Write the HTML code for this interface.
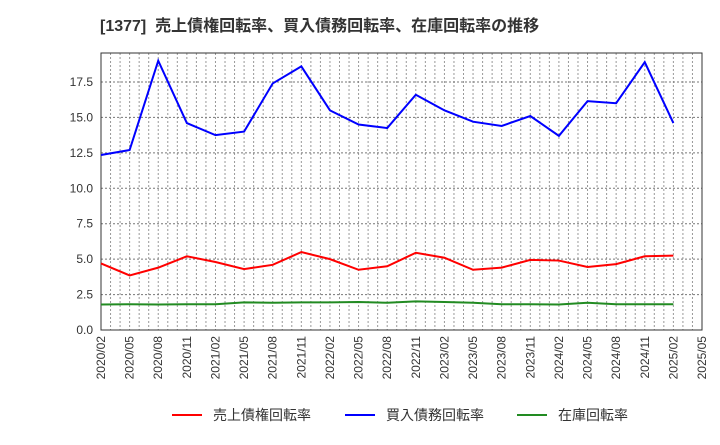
<!DOCTYPE html>
<html><head><meta charset="utf-8"><style>
body{margin:0;background:#fff;font-family:"Liberation Sans","Noto Sans CJK JP",sans-serif}
</style></head><body>
<svg id="c" width="720" height="440" xmlns="http://www.w3.org/2000/svg" font-family="Liberation Sans, Noto Sans CJK JP, sans-serif">
<text x="100" y="31" font-size="16" font-weight="bold" fill="#333">[1377]&#160;&#160;売上債権回転率、買入債務回転率、在庫回転率の推移</text>
<g id="grid"></g><g id="axes"></g><g id="series"></g>
<g>
<line x1="172" y1="415" x2="202" y2="415" stroke="#f00" stroke-width="2"/><text x="213" y="420" font-size="14" fill="#333">売上債権回転率</text>
<line x1="345" y1="415" x2="375" y2="415" stroke="#00f" stroke-width="2"/><text x="386" y="420" font-size="14" fill="#333">買入債務回転率</text>
<line x1="517" y1="415" x2="547" y2="415" stroke="#228b22" stroke-width="2"/><text x="558" y="420" font-size="14" fill="#333">在庫回転率</text>
</g>
</svg>
<script>
const xLabels=["2020/02","2020/05","2020/08","2020/11","2021/02","2021/05","2021/08","2021/11","2022/02","2022/05","2022/08","2022/11","2023/02","2023/05","2023/08","2023/11","2024/02","2024/05","2024/08","2024/11","2025/02","2025/05"];
const yTicks=[0,2.5,5,7.5,10,12.5,15,17.5];
const payables=[12.35,12.7,19.0,14.6,13.75,14.0,17.4,18.6,15.5,14.5,14.25,16.6,15.5,14.7,14.4,15.1,13.7,16.15,16.0,18.9,14.6];
const receivables=[4.7,3.85,4.4,5.2,4.8,4.3,4.6,5.5,5.0,4.25,4.5,5.45,5.1,4.25,4.4,4.95,4.9,4.45,4.65,5.2,5.25];
const inventory=[1.8,1.82,1.8,1.82,1.82,1.95,1.92,1.95,1.95,1.98,1.92,2.02,1.98,1.92,1.82,1.82,1.8,1.92,1.82,1.82,1.82];
const L=101,R=702,T=53,B=330,NS="http://www.w3.org/2000/svg";
const xs=i=>L+(R-L)*i/21, ys=v=>B-(B-82)*v/17.5;
function mk(t,a,p){const e=document.createElementNS(NS,t);for(const k in a)e.setAttribute(k,a[k]);document.getElementById(p).appendChild(e);return e;}
for(let m=0;m<=63;m++){const x=L+(R-L)*m/63;const l=mk('line',{x1:x,y1:T,x2:x,y2:B,stroke:'#999','stroke-width':1,'stroke-dasharray':'2,2'},'grid');}
yTicks.forEach(v=>{const y=ys(v);const l=mk('line',{x1:L,y1:y,x2:R,y2:y,stroke:'#777','stroke-width':1,'stroke-dasharray':'2,2'},'grid');
const t=mk('text',{x:L-8,y:y+4,'font-size':12,'text-anchor':'end',fill:'#333'},'axes');t.textContent=v.toFixed(1);});
xLabels.forEach((s,i)=>{const x=xs(i);const t=mk('text',{x:0,y:0,'font-size':12,'text-anchor':'end',fill:'#333',transform:`translate(${x+4},${B+6}) rotate(-90)`},'axes');t.textContent=s;});
const f=mk('rect',{x:L,y:T,width:R-L,height:B-T,fill:'none',stroke:'#333','stroke-width':1},'axes');
[[receivables,'#f00','receivables-line'],[payables,'#00f','payables-line'],[inventory,'#228b22','inventory-line']].forEach(([d,c,n])=>{const p=mk('polyline',{points:d.map((v,i)=>xs(i)+','+ys(v)).join(' '),fill:'none',stroke:c,'stroke-width':2},'series');});
</script>
</body></html>
